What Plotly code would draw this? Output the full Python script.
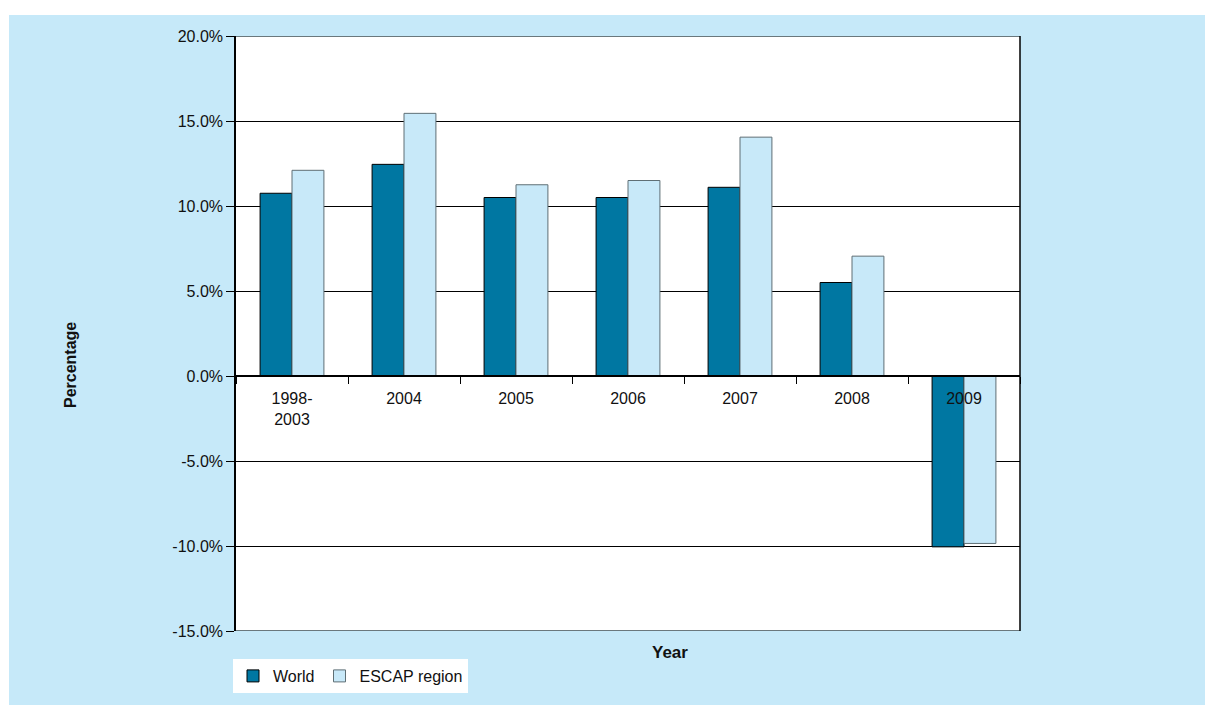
import plotly.graph_objects as go

categories = ["1998-<br>2003", "2004", "2005", "2006", "2007", "2008", "2009"]
world = [10.75, 12.45, 10.5, 10.5, 11.1, 5.5, -10.05]
escap = [12.1, 15.45, 11.25, 11.5, 14.05, 7.05, -9.85]
y_ticks = [-15, -10, -5, 0, 5, 10, 15, 20]

FONT = "Liberation Sans, Arial, sans-serif"
BG = "#c6e9f9"
DARK = "#0077a2"
LIGHT = "#c8e9f9"

W, H = 1205, 705
L, R, T, B = 236, 185, 36, 74
pw, ph = W - L - R, H - T - B

def px(x):
    return (x - L) / pw

def py(y):
    return (H - B - y) / ph

fig = go.Figure()
fig.add_trace(go.Bar(x=categories, y=world, name="World",
                     marker=dict(color=DARK, line=dict(color="#000000", width=1))))
fig.add_trace(go.Bar(x=categories, y=escap, name="ESCAP region",
                     marker=dict(color=LIGHT, line=dict(color="#5f6f75", width=1))))

shapes = [
    dict(type="rect", xref="paper", yref="paper", x0=px(9), x1=px(W + 5), y0=py(H + 5), y1=py(15),
         fillcolor=BG, line=dict(width=0), layer="below"),
    dict(type="rect", xref="paper", yref="paper", x0=0, x1=1, y0=0, y1=1,
         fillcolor="white", line=dict(width=0), layer="below"),
    dict(type="line", xref="paper", yref="y", x0=0, x1=1, y0=20, y1=20,
         line=dict(color="#6a787d", width=2)),
    dict(type="line", xref="paper", yref="y", x0=0, x1=1, y0=-15, y1=-15,
         line=dict(color="#6a787d", width=2)),
    dict(type="line", xref="paper", yref="paper", x0=1, x1=1, y0=0, y1=1,
         line=dict(color="#000000", width=1.5)),
]

fig.update_layout(
    width=W, height=H,
    margin=dict(l=L, r=R, t=T, b=B, autoexpand=False),
    paper_bgcolor="white",
    plot_bgcolor="white",
    barmode="group",
    bargap=0.43,
    bargroupgap=0,
    font=dict(family=FONT, size=16, color="#111111"),
    shapes=shapes,
    showlegend=True,
    legend=dict(orientation="h", x=px(233), y=py(659), xanchor="left", yanchor="top",
                bgcolor="white", font=dict(family=FONT, size=16), traceorder="normal",
                itemwidth=30),
    xaxis=dict(anchor="free", position=3 / 7, showline=True, linecolor="#000000", linewidth=1.5,
               ticks="outside", ticklen=7, tickcolor="#000000", tickson="boundaries",
               ticklabelstandoff=8,
               showgrid=False, tickfont=dict(family=FONT, size=16), fixedrange=True),
    yaxis=dict(range=[-15, 20], tickvals=y_ticks, ticktext=[f"{v:.1f}%" for v in y_ticks],
               showline=True, linecolor="#000000", linewidth=1.5, ticks="outside", ticklen=8,
               tickcolor="#000000", showgrid=True, gridcolor="#000000", gridwidth=1,
               zeroline=False, tickfont=dict(family=FONT, size=16), domain=[0, 1]),
    annotations=[
        dict(text="<b>Percentage</b>", xref="paper", yref="paper", x=px(70), y=py(365),
             xanchor="center", yanchor="middle",
             textangle=-90, showarrow=False, font=dict(family=FONT, size=16, color="#111111")),
        dict(text="<b>Year</b>", xref="paper", yref="paper", x=px(670), y=py(652),
             xanchor="center", yanchor="middle",
             showarrow=False, font=dict(family=FONT, size=17, color="#111111")),
    ],
)

fig.write_html("out.html")
